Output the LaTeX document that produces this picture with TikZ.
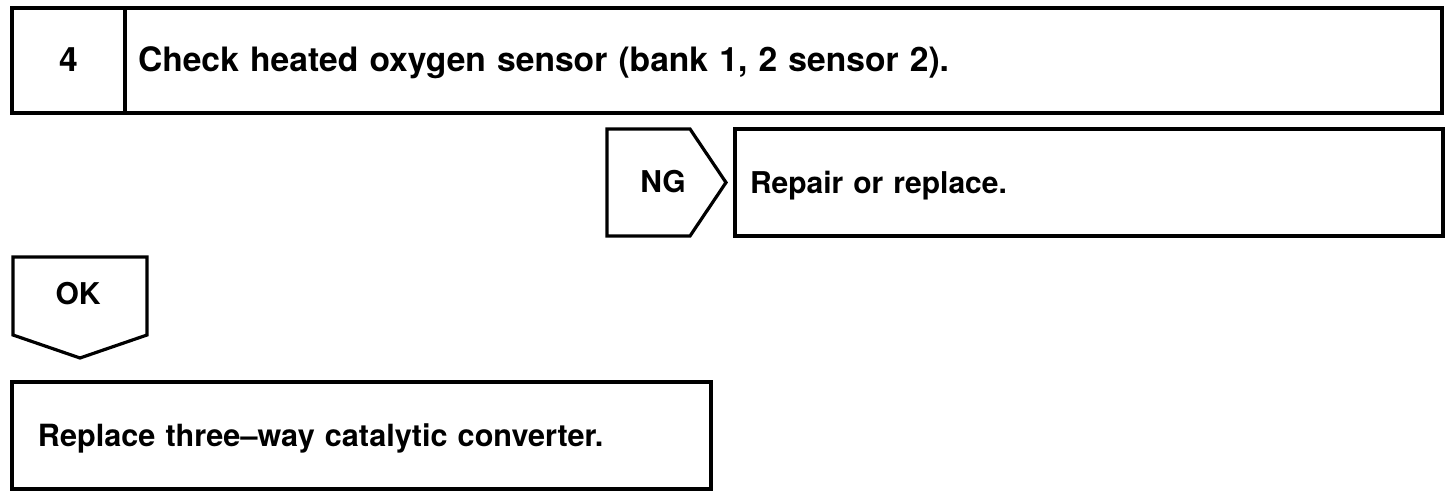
\documentclass[tikz,border=0pt]{standalone}
\usepackage{fontspec}
\setmainfont{TeX Gyre Heros}
\usetikzlibrary{positioning}

\begin{document}
\begin{tikzpicture}[x=0.5pt,y=-0.5pt,
	box/.style={draw, line width=1.6pt, rectangle, outer sep=0pt, inner ysep=0pt, text depth=0pt, align=left, font=\bfseries\fontsize{15}{18}\selectfont, text height=11pt},
	stepbox/.style={box, font=\bfseries\fontsize{16.8}{20}\selectfont, text height=11.5pt, minimum height=52.5pt},
	tag/.style={draw, line width=1.6pt, line join=miter},
	tagtext/.style={inner sep=0pt, text depth=0pt, text height=11pt, font=\bfseries\fontsize{15}{18}\selectfont}]
	\useasboundingbox (0,0) rectangle (1456,496);
	% step 4
	\node[stepbox, align=center, minimum width=56.5pt, inner xsep=0pt] (num) at (68.5,60.5) {4};
	\node[stepbox, right=0pt of num, inner xsep=6.5pt, text width=645.5pt] (check) {Check heated oxygen sensor (bank 1, 2 sensor 2).};
	% NG branch
	\draw[tag] (607,129) -- (690,129) -- (726,182.5) -- (690,236) -- (607,236) -- cycle;
	\node[tagtext] (ng) at (663,182) {NG};
	\node[box, minimum height=53.5pt, inner xsep=7.5pt, text width=339pt] (repair) at (1089,182.5) {Repair or replace.};
	% OK branch
	\draw[tag] (13,257) -- (147,257) -- (147,335) -- (80,358) -- (13,335) -- cycle;
	\node[tagtext] (ok) at (78,294) {OK};
	\node[box, minimum height=53.5pt, inner xsep=13pt, text width=323.5pt, font=\bfseries\fontsize{15.3}{18}\selectfont] (replace) at (361.5,435.5) {Replace three--way catalytic converter.};
\end{tikzpicture}
\end{document}
